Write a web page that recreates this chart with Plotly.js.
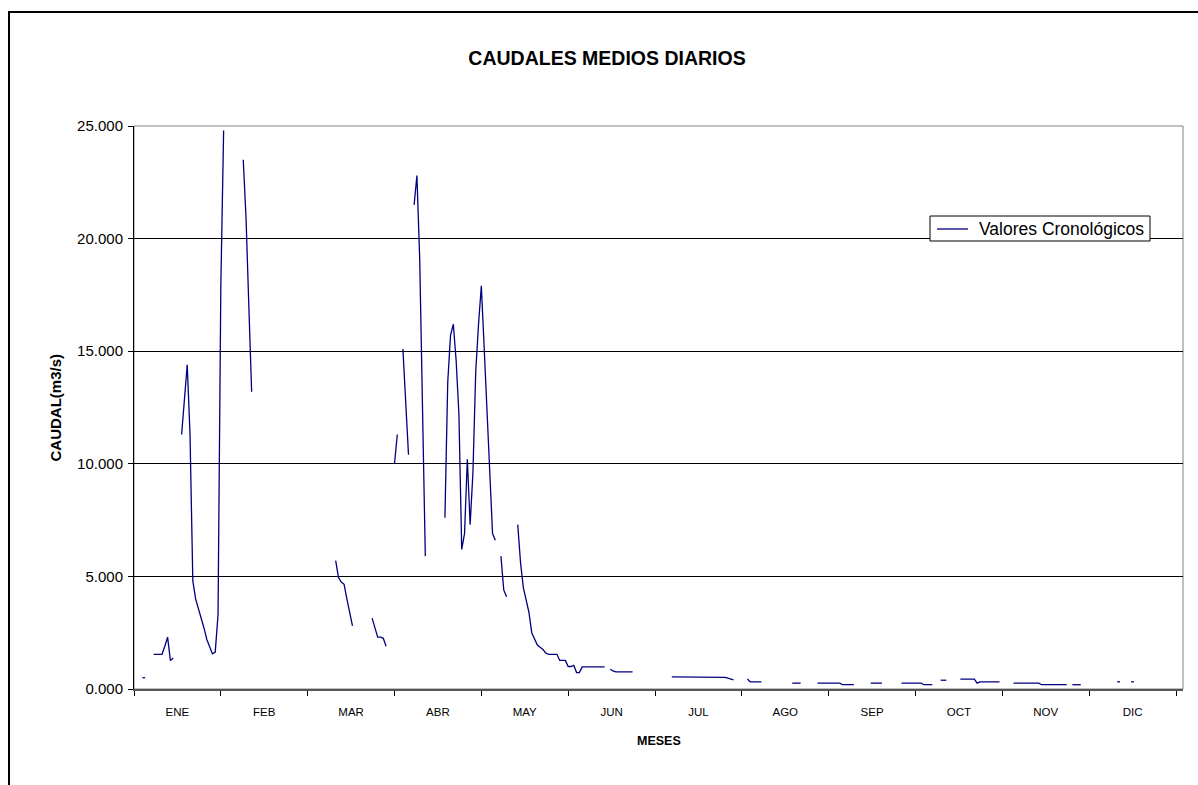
<!DOCTYPE html>
<html>
<head>
<meta charset="utf-8">
<script src="https://cdn.plot.ly/plotly-3.0.1.min.js"></script>
<style>
  html, body { margin: 0; padding: 0; width: 1198px; height: 785px; overflow: hidden; background: #fff; }
  #chart { position: absolute; left: 0; top: 0; width: 1198px; height: 785px; }
  #frame { position: absolute; left: 8px; top: 11px; width: 1300px; height: 900px; border: 2px solid #000; box-sizing: border-box; pointer-events: none; }
</style>
</head>
<body>
<div id="chart"></div>
<div id="frame"></div>
<script>
// Month labels
const MESES = ['ENE', 'FEB', 'MAR', 'ABR', 'MAY', 'JUN', 'JUL', 'AGO', 'SEP', 'OCT', 'NOV', 'DIC'];
const n = null;
// Daily mean flows (m3/s), 31 slots per month, null = no data
const ENE = [n, n, 0.50, 0.50, n, n, 1.54, 1.54, 1.54, 1.54, 1.90, 2.30, 1.26, 1.38, n, n, 11.30, 12.90, 14.40, 11.30, 4.80, 4.00, 3.60, 3.10, 2.70, 2.20, 1.85, 1.56, 1.64, 3.30, 17.90];
const FEB = [24.80, n, n, n, n, n, n, 23.50, 20.90, 17.00, 13.20, n, n, n, n, n, n, n, n, n, n, n, n, n, n, n, n, n, n, n, n];
const MAR = [n, n, n, n, n, n, n, n, n, 5.70, 4.95, 4.75, 4.65, 4.00, 3.40, 2.80, n, n, n, n, n, n, 3.15, 2.70, 2.30, 2.30, 2.25, 1.90, n, n, 10.00];
const ABR = [11.30, n, 15.10, 12.70, 10.40, n, 21.50, 22.80, 19.10, 12.50, 5.90, n, n, n, n, n, n, 7.60, 13.60, 15.70, 16.20, 14.60, 12.20, 6.20, 6.90, 10.20, 7.30, 9.60, 14.10, 16.20, 17.90];
const MAY = [15.20, 12.20, 9.50, 6.90, 6.60, n, 5.90, 4.40, 4.10, n, n, n, 7.30, 5.60, 4.50, 3.90, 3.40, 2.50, 2.25, 1.95, 1.85, 1.75, 1.60, 1.54, 1.54, 1.54, 1.54, 1.27, 1.27, 1.27, 1.00];
const JUN = [1.00, 1.05, 0.73, 0.73, 0.98, 0.98, 0.98, 0.98, 0.98, 0.98, 0.98, 0.98, 0.98, n, 0.88, 0.80, 0.76, 0.76, 0.76, 0.76, 0.76, 0.76, 0.76, n, n, n, n, n, n, n, n];
const JUL = [n, n, n, n, n, 0.54, 0.54, 0.54, 0.54, 0.54, 0.54, 0.54, 0.54, 0.54, 0.54, 0.54, 0.54, 0.54, 0.54, 0.54, 0.54, 0.54, 0.54, 0.54, 0.52, 0.48, 0.45, 0.41, n, n, n];
const AGO = [n, 0.44, 0.32, 0.32, 0.32, 0.32, 0.32, n, n, n, n, n, n, n, n, n, n, 0.26, 0.26, 0.26, 0.26, n, n, n, n, n, 0.26, 0.26, 0.26, 0.26, 0.26];
const SEP = [0.26, 0.26, 0.26, 0.26, 0.19, 0.19, 0.19, 0.19, 0.19, n, n, n, n, n, 0.26, 0.26, 0.26, 0.26, 0.26, n, n, n, n, n, n, 0.26, 0.26, 0.26, 0.26, 0.26, 0.26];
const OCT = [0.26, 0.26, 0.19, 0.19, 0.19, 0.19, n, n, 0.39, 0.39, 0.39, n, n, n, n, 0.44, 0.44, 0.44, 0.44, 0.44, 0.44, 0.26, 0.32, 0.32, 0.32, 0.32, 0.32, 0.32, 0.32, 0.32, n];
const NOV = [n, n, n, 0.26, 0.26, 0.26, 0.26, 0.26, 0.26, 0.26, 0.26, 0.26, 0.26, 0.19, 0.19, 0.19, 0.19, 0.19, 0.19, 0.19, 0.19, 0.19, 0.19, n, 0.19, 0.19, 0.19, 0.19, n, n, n];
const DIC = [n, n, n, n, n, n, n, n, n, 0.32, 0.32, n, n, n, 0.32, 0.32, n, n, n, n, n, n, n, n, n, n, n, n, n, n, n];

const SERIES = [ENE, FEB, MAR, ABR, MAY, JUN, JUL, AGO, SEP, OCT, NOV, DIC];
const SERIES_NAME = 'Valores Cronológicos';
const SLOTS = 31;

const xs = [], ys = [];
SERIES.forEach((month, m) => {
  month.forEach((v, d) => {
    xs.push(m * SLOTS + d + 1);
    ys.push(v);
  });
});

const centers = MESES.map((_, m) => m * SLOTS + SLOTS / 2);
const bounds = [];
for (let m = 0; m <= MESES.length; m++) bounds.push(m * SLOTS);

const FONT = 'Arial, "Liberation Sans", sans-serif';
const LINE_COLOR = '#000080';

// plot area in pixels: x 134..1183, y 126..689
const PX = (px) => (px - 134) / 1049;
const PY = (py) => (689 - py) / 563;

const trace = {
  x: xs, y: ys, type: 'scatter', mode: 'lines',
  name: SERIES_NAME,
  connectgaps: false,
  line: { color: LINE_COLOR, width: 1.3 },
  hoverinfo: 'skip',
  showlegend: false
};

const layout = {
  width: 1198, height: 785,
  margin: { l: 134, r: 15, t: 126, b: 96 },
  paper_bgcolor: '#fff', plot_bgcolor: '#fff',
  font: { family: FONT, color: '#000' },
  title: {
    text: '<b>CAUDALES MEDIOS DIARIOS</b>',
    font: { family: FONT, size: 19.5, color: '#000' },
    xref: 'container', yref: 'container',
    x: 607 / 1198, xanchor: 'center',
    y: 1 - 58 / 785, yanchor: 'middle'
  },
  showlegend: false,
  xaxis: {
    range: [0, 374.5],
    tickmode: 'array', tickvals: centers, ticktext: MESES,
    ticks: 'outside', ticklen: 11, tickcolor: 'rgba(0,0,0,0)',
    tickfont: { family: FONT, size: 11.5, color: '#000' },
    minor: { tickmode: 'array', tickvals: bounds, ticks: 'outside', ticklen: 5, tickcolor: '#000', tickwidth: 1, showgrid: false },
    showgrid: false, zeroline: false,
    showline: true, linecolor: '#555', linewidth: 2,
    fixedrange: true
  },
  yaxis: {
    range: [0, 25], dtick: 5, tick0: 0,
    tickformat: '.3f',
    ticks: 'outside', ticklen: 5, tickcolor: '#000',
    ticklabelstandoff: 2,
    tickfont: { family: FONT, size: 15, color: '#000' },
    showgrid: true, gridcolor: '#000', gridwidth: 1,
    zeroline: false,
    showline: true, linecolor: '#000', linewidth: 1,
    fixedrange: true
  },
  shapes: [
    {
      type: 'rect', xref: 'paper', yref: 'paper', x0: 0, x1: 1, y0: 0, y1: 1,
      line: { color: '#808080', width: 1 }, layer: 'below'
    },
    // legend box
    {
      type: 'rect', xref: 'paper', yref: 'paper',
      x0: PX(930), x1: PX(1150), y0: PY(241), y1: PY(216),
      fillcolor: '#fff', line: { color: '#000', width: 1 }, layer: 'above'
    },
    {
      type: 'line', xref: 'paper', yref: 'paper',
      x0: PX(937), x1: PX(968), y0: PY(229), y1: PY(229),
      line: { color: LINE_COLOR, width: 1.3 }, layer: 'above'
    }
  ],
  annotations: [
    {
      text: SERIES_NAME,
      xref: 'paper', yref: 'paper', x: PX(977), y: PY(229),
      xanchor: 'left', yanchor: 'middle', showarrow: false,
      font: { family: FONT, size: 17.5, color: '#000' }
    },
    {
      text: '<b>CAUDAL(m3/s)</b>', textangle: -90,
      xref: 'paper', yref: 'paper', x: PX(55), y: 0.5,
      xanchor: 'center', yanchor: 'middle', showarrow: false,
      font: { family: FONT, size: 15, color: '#000' }
    },
    {
      text: '<b>MESES</b>',
      xref: 'paper', yref: 'paper', x: 0.5, y: PY(741),
      xanchor: 'center', yanchor: 'middle', showarrow: false,
      font: { family: FONT, size: 12.5, color: '#000' }
    }
  ]
};

Plotly.newPlot('chart', [trace], layout, { displayModeBar: false, staticPlot: true });
</script>
</body>
</html>
